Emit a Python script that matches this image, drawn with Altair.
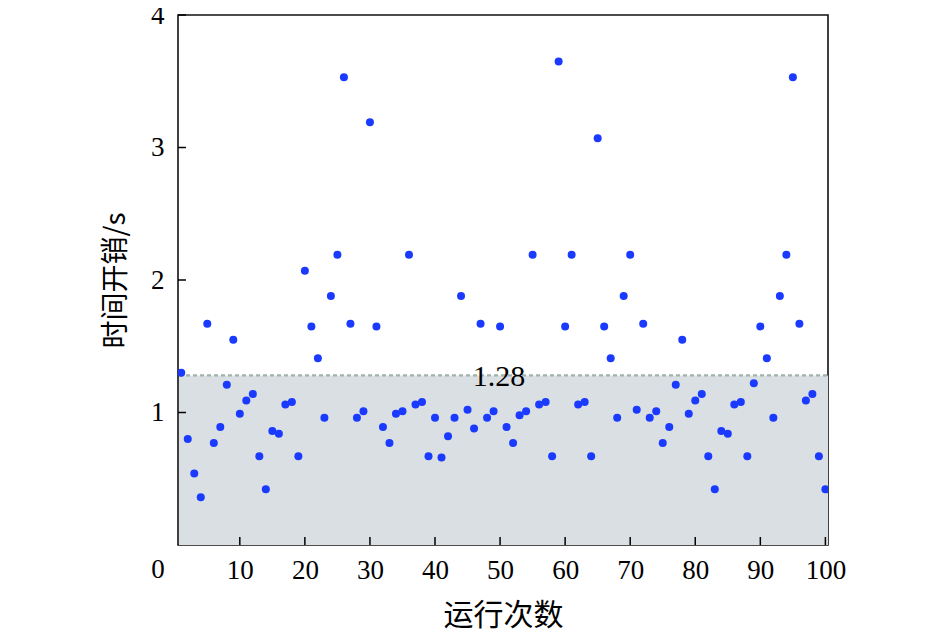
import altair as alt
import pandas as pd

runs = list(range(1, 101))
cost = [1.30, 0.80, 0.54, 0.36, 1.67, 0.77, 0.89, 1.21, 1.55, 0.99,
        1.09, 1.14, 0.67, 0.42, 0.86, 0.84, 1.06, 1.08, 0.67, 2.07,
        1.65, 1.41, 0.96, 1.88, 2.19, 3.53, 1.67, 0.96, 1.01, 3.19,
        1.65, 0.89, 0.77, 0.99, 1.01, 2.19, 1.06, 1.08, 0.67, 0.96,
        0.66, 0.82, 0.96, 1.88, 1.02, 0.88, 1.67, 0.96, 1.01, 1.65,
        0.89, 0.77, 0.98, 1.01, 2.19, 1.06, 1.08, 0.67, 3.65, 1.65,
        2.19, 1.06, 1.08, 0.67, 3.07, 1.65, 1.41, 0.96, 1.88, 2.19,
        1.02, 1.67, 0.96, 1.01, 0.77, 0.89, 1.21, 1.55, 0.99, 1.09,
        1.14, 0.67, 0.42, 0.86, 0.84, 1.06, 1.08, 0.67, 1.22, 1.65,
        1.41, 0.96, 1.88, 2.19, 3.53, 1.67, 1.09, 1.14, 0.67, 0.42]
threshold = [1.28]
threshold_label = ["1.28"]
x_ticks = [10, 20, 30, 40, 50, 60, 70, 80, 90, 100]
origin_label = ["0"]
y_ticks = [1, 2, 3, 4]

W, H = 650, 530
X_MIN, X_MAX = 0.5, 100.4
NUM_FONT = "Liberation Serif"
CJK_FONT = "Noto Sans CJK SC"

xs = alt.Scale(domain=[X_MIN, X_MAX], nice=False, zero=False)
ys = alt.Scale(domain=[0, 4], nice=False, zero=False)

x_axis = alt.Axis(values=x_ticks, format="d",
                  labelPadding=12, labelOverlap=False, labelFlush=False,
                  titlePadding=17, titleFontSize=30)
y_axis = alt.Axis(values=y_ticks, format="d", labelPadding=14, titlePadding=20, titleFontSize=28)

df = pd.DataFrame({"run": runs, "cost": cost})
thr_df = pd.DataFrame({"lo": [0.0], "t": threshold, "label": threshold_label})
xt_df = pd.DataFrame({"v": x_ticks})
yt_df = pd.DataFrame({"v": y_ticks})
origin_df = pd.DataFrame({"v": [X_MIN], "label": origin_label})

band = alt.Chart(thr_df).mark_rect(color="#d9dfe2").encode(
    x=alt.value(1), x2=alt.value(W),
    y=alt.Y("lo:Q", scale=ys, title="时间开销/s", axis=y_axis), y2="t:Q",
)

line = alt.Chart(thr_df).mark_rule(color="#a2b3ad", strokeWidth=2.2, strokeDash=[4, 3]).encode(
    x=alt.value(1), x2=alt.value(W),
    y=alt.Y("t:Q", scale=ys, title="时间开销/s", axis=y_axis),
)

label = alt.Chart(thr_df).mark_text(
    font=NUM_FONT, fontSize=30, color="black", align="center", baseline="alphabetic", dy=11
).encode(
    x=alt.value(321),
    y=alt.Y("t:Q", scale=ys, title="时间开销/s", axis=y_axis),
    text="label:N",
)

points = alt.Chart(df).mark_circle(size=64, color="#1a3aff", opacity=1, clip=True).encode(
    x=alt.X("run:Q", scale=xs, title="运行次数", axis=x_axis),
    y=alt.Y("cost:Q", scale=ys, title="时间开销/s", axis=y_axis),
)

ytick = alt.Chart(yt_df).mark_rule(color="black", strokeWidth=1.5).encode(
    y=alt.Y("v:Q", scale=ys, title="时间开销/s", axis=y_axis), x=alt.value(0), x2=alt.value(8),
)
xtick = alt.Chart(xt_df).mark_rule(color="black", strokeWidth=1.5).encode(
    x=alt.X("v:Q", scale=xs, title="运行次数", axis=x_axis), y=alt.value(H), y2=alt.value(H - 8),
)

origin = alt.Chart(origin_df).mark_text(
    font=NUM_FONT, fontSize=27, color="black", align="center", baseline="top", dx=-20, dy=12
).encode(
    x=alt.X("v:Q", scale=xs, title="运行次数", axis=x_axis),
    y=alt.value(H),
    text="label:N",
)

chart = alt.layer(band, line, label, points, ytick, xtick, origin).properties(
    width=W, height=H,
    autosize=alt.AutoSizeParams(type="none"),
    padding={"left": 170, "top": 7, "right": 90, "bottom": 88},
).configure_view(
    stroke="#111", strokeWidth=1.6
).configure_axis(
    domain=False, ticks=False, grid=False,
    labelFont=NUM_FONT, labelFontSize=27, labelColor="black",
    titleFont=CJK_FONT, titleColor="black", titleFontWeight="normal",
)

chart.save("out.html", embed_options={"renderer": "svg", "actions": False})
